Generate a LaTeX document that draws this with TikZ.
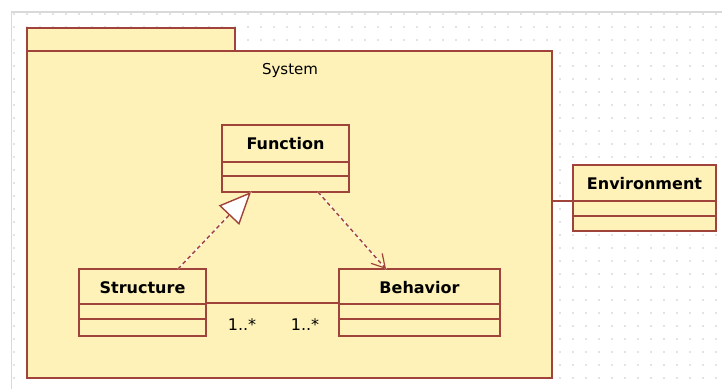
\documentclass[tikz,border=0pt]{standalone}
\usepackage{fontspec}
\setmainfont{DejaVu Sans}
\usetikzlibrary{arrows.meta,calc}
\definecolor{umlfill}{HTML}{FEF2B8}
\definecolor{umlline}{HTML}{A0433A}
\definecolor{griddot}{HTML}{C8C8C8}
\definecolor{frameline}{HTML}{D9D9D9}
\begin{document}
\begin{tikzpicture}[x=1pt,y=-1pt,
  box/.style={draw=umlline,fill=umlfill,line width=1.4pt,inner sep=0pt,outer sep=0pt},
  classtitle/.style={font=\fontsize{16}{19}\selectfont\bfseries,inner sep=0pt,anchor=base},
  plainlabel/.style={font=\fontsize{15}{18}\selectfont,inner sep=0pt,anchor=base},
  multlabel/.style={font=\fontsize{16}{19}\selectfont,inner sep=0pt,anchor=base},
  conn/.style={draw=umlline,line width=1.4pt},
  dashconn/.style={draw=umlline,line width=1.4pt,dash pattern=on 4pt off 3pt},
  whiteunder/.style={draw=white,line width=1.4pt}]
\useasboundingbox (0,0) rectangle (722,389);
\fill[white] (0,0) rectangle (722,389);
% grid dots
\foreach \i in {0,...,54}{\foreach \j in {0,...,28}{\fill[griddot] (14+13*\i,14+13*\j) circle (0.8pt);}}
% frame
\draw[frameline,line width=1.5pt] (11.5,389) -- (11.5,12) -- (722,12);
% package
\node[box,minimum width=208pt,minimum height=23pt] (tab) at (131,39.5) {};
\node[box,minimum width=525pt,minimum height=327pt] (pkg) at (289.5,214.5) {};
\node[plainlabel] (systemlabel) at (290,74.5) {System};
% Function
\node[box,minimum width=127pt,minimum height=67pt] (function) at (285.5,158.5) {};
\node[classtitle] (functionT) at ($(function.north)+(0,24)$) {Function};
\draw[conn] ($(function.north west)+(0,37)$) -- ($(function.north east)+(0,37)$);
\draw[conn] ($(function.north west)+(0,51)$) -- ($(function.north east)+(0,51)$);
% Structure
\node[box,minimum width=127pt,minimum height=67pt] (structure) at (142.5,302.5) {};
\node[classtitle] (structureT) at ($(structure.north)+(0,24)$) {Structure};
\draw[conn] ($(structure.north west)+(0,35)$) -- ($(structure.north east)+(0,35)$);
\draw[conn] ($(structure.north west)+(0,50)$) -- ($(structure.north east)+(0,50)$);
% Behavior
\node[box,minimum width=161pt,minimum height=67pt] (behavior) at (419.5,302.5) {};
\node[classtitle] (behaviorT) at ($(behavior.north)+(0,24)$) {Behavior};
\draw[conn] ($(behavior.north west)+(0,35)$) -- ($(behavior.north east)+(0,35)$);
\draw[conn] ($(behavior.north west)+(0,50)$) -- ($(behavior.north east)+(0,50)$);
% Environment
\node[box,minimum width=143pt,minimum height=66pt] (env) at (644.5,198) {};
\node[classtitle] (envT) at ($(env.north)+(0,24)$) {Environment};
\draw[conn] ($(env.north west)+(0,36)$) -- ($(env.north east)+(0,36)$);
\draw[conn] ($(env.north west)+(0,51)$) -- ($(env.north east)+(0,51)$);
% environment link
\coordinate (envl) at ($(env.north west)+(0,36)$);
\draw[conn] (pkg.east |- envl) -- (envl);
% association
\coordinate (aS) at ($(structure.north east)+(0,34)$);
\coordinate (aB) at ($(behavior.north west)+(0,34)$);
\draw[conn] (aS) -- (aB);
\node[multlabel] (mult1) at (242,330) {1..*};
\node[multlabel] (mult2) at (305,330) {1..*};
% generalization / realization
\coordinate (gS) at ($(structure.north west)+(99,0)$);
\coordinate (gF) at ($(function.south west)+(29,0)$);
\draw[whiteunder] (gS) -- (gF);
\draw[dashconn,-{Triangle[open,fill=white,length=32pt,width=28pt,line width=1.4pt]}] (gS) -- (gF);
% dependency
\coordinate (dF) at ($(function.south west)+(96,0)$);
\coordinate (dB) at ($(behavior.north west)+(47,0)$);
\draw[whiteunder] (dF) -- (dB);
\draw[dashconn,-{Straight Barb[length=13pt,width=15pt,line width=1.2pt]}] (dF) -- (dB);
\end{tikzpicture}
\end{document}
